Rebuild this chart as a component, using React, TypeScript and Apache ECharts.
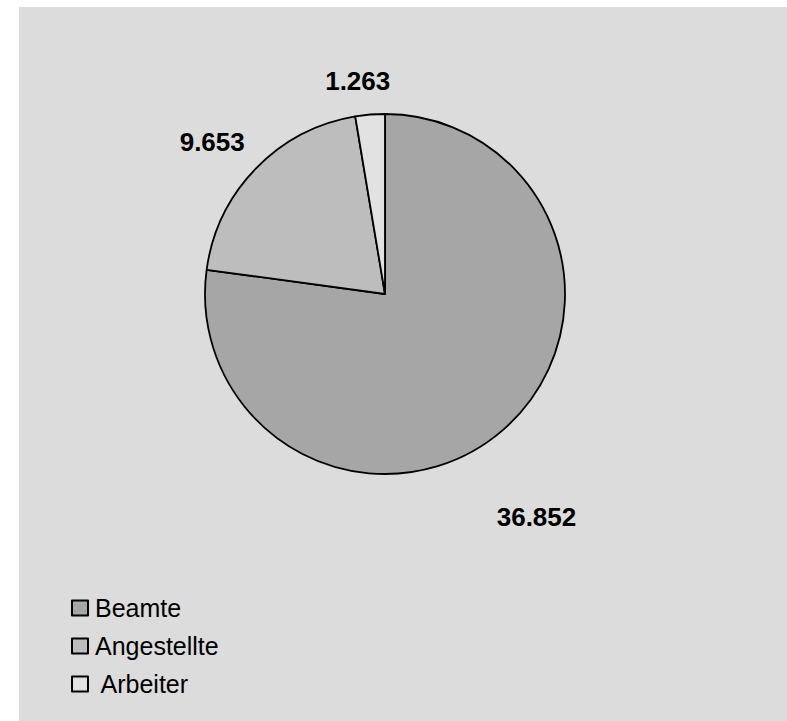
import React, { useEffect, useRef } from "react";
import * as echarts from "echarts";

const categories = ["Beamte", "Angestellte", "Arbeiter"];
const values = [36852, 9653, 1263];
const valueLabels = ["36.852", "9.653", "1.263"];

const colors = ["#a6a6a6", "#bdbdbd", "#e2e2e2"];
// first / second label-line segment lengths used to place the outside labels
const labelLen1 = [116, 39, 34];
const labelLen2 = [-88, -22, -28];

export default function App() {
  const ref = useRef<HTMLDivElement>(null);
  useEffect(() => {
    if (!ref.current) return;
    const chart = echarts.init(ref.current, null, { renderer: "svg" });
    const font = 'Arial, "Liberation Sans", sans-serif';
    chart.setOption({
      animation: false,
      backgroundColor: "#dcdcdc",
      legend: {
        orient: "vertical",
        left: 52,
        top: 588,
        padding: 0,
        itemWidth: 16,
        itemHeight: 15,
        itemGap: 12,
        icon: "rect",
        data: categories,
        formatter: (name: string) => (name === "Arbeiter" ? " " + name : name),
        textStyle: {
          fontFamily: font,
          fontSize: 25,
          lineHeight: 26,
          color: "#000",
          padding: [0, 0, 0, 2],
        },
      },
      series: [
        {
          type: "pie",
          center: [366, 287],
          radius: 180,
          startAngle: 90,
          clockwise: true,
          avoidLabelOverlap: false,
          itemStyle: { borderColor: "#000", borderWidth: 1.8 },
          emphasis: { disabled: true },
          label: {
            show: true,
            position: "outside",
            fontFamily: font,
            fontSize: 26,
            fontWeight: "bold",
            color: "#000",
            formatter: (p: any) => valueLabels[p.dataIndex],
          },
          labelLine: { show: false },
          data: categories.map((name, i) => ({
            name,
            value: values[i],
            itemStyle: { color: colors[i] },
            labelLine: { show: false, length: labelLen1[i], length2: labelLen2[i] },
          })),
        },
      ],
    });
    return () => chart.dispose();
  }, []);
  return (
    <div
      ref={ref}
      style={{ position: "absolute", left: 19, top: 7, width: 768, height: 714 }}
    />
  );
}
